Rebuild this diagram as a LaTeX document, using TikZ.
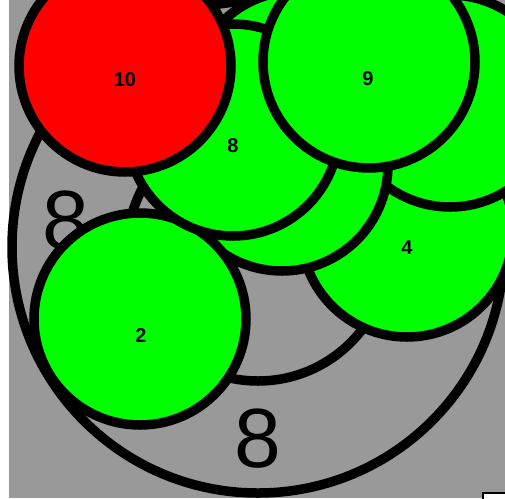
\documentclass[tikz,border=0pt]{standalone}
\usepackage{fontspec}
\setmainfont{Liberation Sans}
\usepackage{tikz}
\definecolor{bggray}{RGB}{153,153,153}
\definecolor{leafgreen}{RGB}{0,255,0}
\definecolor{leafred}{RGB}{255,0,0}

\begin{document}
\begin{tikzpicture}[x=1pt,y=-1pt,
    disc/.style={draw=black,line width=9.5pt},
    leaflabel/.style={font=\fontsize{20}{20}\selectfont\bfseries,inner sep=0pt},
    sizelabel/.style={font=\fontsize{84}{84}\selectfont,inner sep=0pt}]
  \useasboundingbox (0,0) rectangle (505,498);
  \clip (0,0) rectangle (505,498);
  % background
  \fill[bggray] (9,0) rectangle (505,498);
  % grey enclosing circles
  \filldraw[disc,fill=bggray] (258,247) circle (246);
  \filldraw[disc,fill=bggray] (258,250) circle (131);
  % size labels
  \node[sizelabel] (outersize) at (257.5,438.5) {8};
  \node[sizelabel] (innersize) at (66,221) {8};
  % back leaves
  \foreach \cx/\cy in {297/97, 407/231, 450/101, 282/165}
    \filldraw[disc,fill=leafgreen] (\cx,\cy) circle (106);
  \node[leaflabel] (leaffour) at (407,248) {4};
  % front leaves
  \filldraw[disc,fill=leafgreen] (140,319) circle (106);
  \node[leaflabel] (leaftwo) at (141,336) {2};
  \filldraw[disc,fill=leafgreen] (233,130) circle (106);
  \node[leaflabel] (leafeight) at (233,146) {8};
  \filldraw[disc,fill=leafred] (125,66) circle (106);
  \node[leaflabel] (leaften) at (125,79.5) {10};
  \filldraw[disc,fill=leafgreen] (369,62) circle (106);
  \node[leaflabel] (leafnine) at (368,78.5) {9};
  % legend corner
  \filldraw[draw=black,fill=white,line width=2pt] (483,493) rectangle (510,505);
\end{tikzpicture}
\end{document}
